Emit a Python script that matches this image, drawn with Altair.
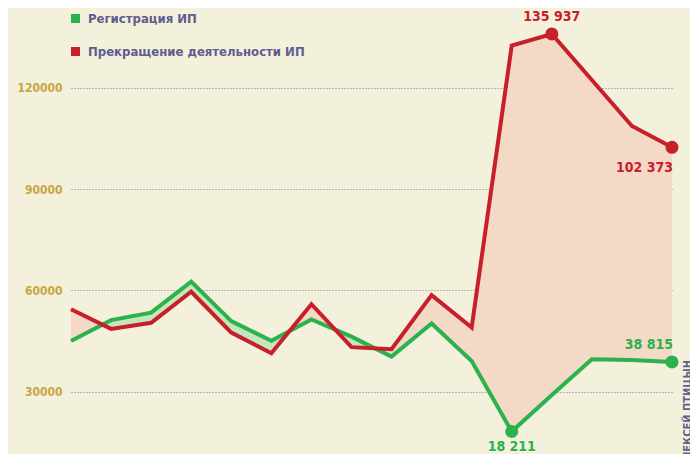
import altair as alt
import pandas as pd

# --- data ---
months = list(range(16))
registration = [45000, 51200, 53400, 62600, 50900, 45100, 51400, 46300,
                40400, 50200, 39100, 18211, 29000, 39600, 39400, 38815]
termination = [54400, 48600, 50400, 59600, 47500, 41400, 55900, 43200,
               42600, 58600, 49000, 132500, 135937, 122300, 108700, 102373]
series_names = ["Регистрация ИП", "Прекращение деятельности ИП"]
y_ticks = [30000, 60000, 90000, 120000]
labelled = [("Регистрация ИП", 11), ("Регистрация ИП", 15),
            ("Прекращение деятельности ИП", 12), ("Прекращение деятельности ИП", 15)]

GREEN = "#2bb24c"
RED = "#c8202b"
BG = "#f3f0dc"
FONT = "'DejaVu Sans Condensed', 'Roboto', sans-serif"

# --- band between the two lines, split at crossings ---
rows = []
for i in months:
    g, r = registration[i], termination[i]
    rows.append({"x": i, "g": g, "r": r})
    if i < len(months) - 1:
        d0 = g - r
        d1 = registration[i + 1] - termination[i + 1]
        if d0 * d1 < 0:
            t = d0 / (d0 - d1)
            v = r + t * (termination[i + 1] - r)
            rows.append({"x": i + t, "g": v, "r": v})
band = pd.DataFrame(rows)
band["hi"] = band[["g", "r"]].max(axis=1)

long = pd.DataFrame(
    [{"x": i, "series": series_names[0], "v": registration[i]} for i in months]
    + [{"x": i, "series": series_names[1], "v": termination[i]} for i in months]
)

def fmt(v):
    return f"{v:,}".replace(",", " ")

pts = pd.DataFrame([
    {"x": i, "series": s, "v": (registration if s == series_names[0] else termination)[i]}
    for s, i in labelled
])
pts["label"] = pts["v"].apply(fmt)

xs = alt.Scale(domain=[0, 15], nice=False, zero=False)
ys = alt.Scale(domain=[11550, 143630], nice=False, zero=False)
X = alt.X("x:Q", scale=xs, axis=None)
Y = alt.Y("v:Q", scale=ys, axis=alt.Axis(
    values=y_ticks, format="d", title=None, domain=False, ticks=False,
    labelColor="#c9a63e", labelFont=FONT, labelFontWeight="bold",
    labelFontSize=12, labelPadding=9, grid=True, gridDash=[1, 2],
    gridColor="#6c6c98", gridWidth=1, gridOpacity=0.9))
color = alt.Color("series:N", scale=alt.Scale(domain=series_names, range=[GREEN, RED]),
                  legend=alt.Legend(orient="none", legendX=-2, legendY=4, title=None,
                                    symbolType="square", symbolSize=81,
                                    symbolStrokeWidth=0, symbolOpacity=1,
                                    labelFont=FONT, labelFontSize=13, labelLimit=0,
                                    labelFontWeight="bold", labelColor="#5f5c8e",
                                    labelOffset=6, rowPadding=19, padding=0))

pink = alt.Chart(band).mark_area(color="#f3d9c6", opacity=1).encode(
    x=alt.X("x:Q", scale=xs, axis=None), y=alt.Y("hi:Q", scale=ys), y2="g:Q")
greenband = alt.Chart(band).mark_area(color="#c6e4bd", opacity=1).encode(
    x=alt.X("x:Q", scale=xs, axis=None), y=alt.Y("hi:Q", scale=ys), y2="r:Q")

base_lines = alt.Chart(long).encode(x=X, y=Y, color=color, order=alt.Order("x:Q"))
lines = base_lines.mark_line(strokeWidth=4, strokeJoin="miter")

points = alt.Chart(pts).mark_point(filled=True, size=170, opacity=1).encode(
    x=X, y=Y, color=alt.Color("series:N", scale=alt.Scale(domain=series_names, range=[GREEN, RED]), legend=None))

def lab(sel_series, idx, dy, align, dx=0):
    d = pts[(pts["series"] == sel_series) & (pts["x"] == idx)]
    col = GREEN if sel_series == series_names[0] else RED
    return alt.Chart(d).mark_text(dy=dy, dx=dx, align=align, baseline="alphabetic",
                                  font=FONT, fontWeight="bold", fontSize=14,
                                  color=col).encode(x=X, y=Y, text="label:N")

labels = (lab(series_names[1], 12, -13, "center")
          + lab(series_names[1], 15, 25, "right", 1)
          + lab(series_names[0], 11, 19, "center")
          + lab(series_names[0], 15, -13, "right", 1))

credit = alt.Chart(pd.DataFrame({"t": ["ИНФОГРАФИКА: АЛЕКСЕЙ ПТИЦЫН"]})).mark_text(
    angle=270, align="right", baseline="middle", font=FONT, fontWeight="bold",
    fontSize=11, color="#5f5c8e").encode(
    x=alt.value(617), y=alt.value(352), text="t:N")

chart = alt.layer(pink, greenband, lines, points, labels, credit).properties(
    width=601, height=446, background=BG,
    padding={"left": 63, "top": 0, "right": 18, "bottom": 0},
    autosize=alt.AutoSizeParams(type="none"),
).configure_view(stroke=None)

chart.save("out.html", embed_options={"renderer": "svg", "actions": False})
